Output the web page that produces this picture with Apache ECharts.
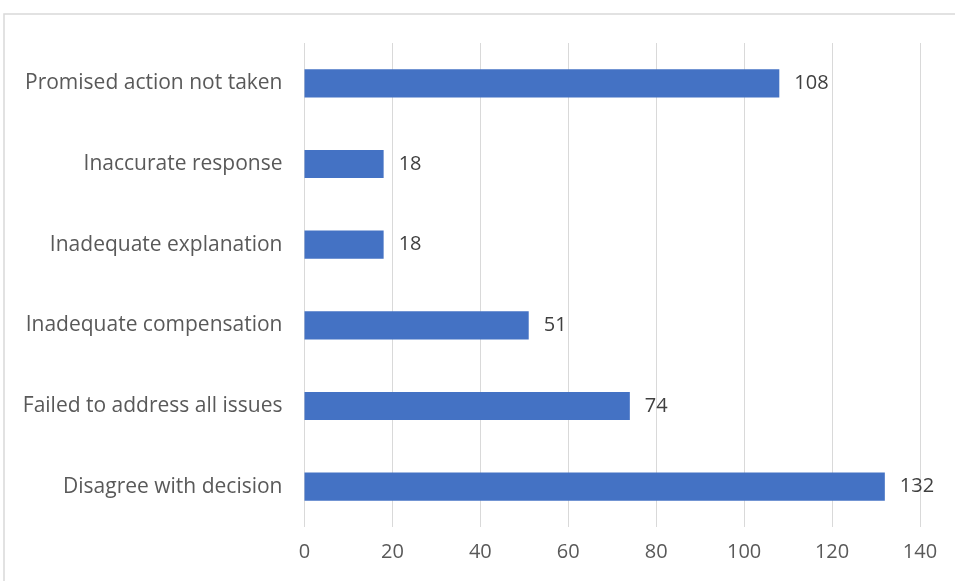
<!DOCTYPE html>
<html><head><meta charset="utf-8">
<script src="https://cdn.jsdelivr.net/npm/echarts@6/dist/echarts.min.js"></script>
<style>html,body{margin:0;padding:0;background:#fff}#c{width:955px;height:581px}</style>
</head><body><div id="c"></div>
<script>
const categories = ["Disagree with decision","Failed to address all issues","Inadequate compensation","Inadequate explanation","Inaccurate response","Promised action not taken"];
const values = [132, 74, 51, 18, 18, 108];
const xTicks = {min: 0, max: 140, interval: 20};

const chart = echarts.init(document.getElementById('c'), null, {renderer: 'canvas'});
const font = '"Open Sans", "Liberation Sans", sans-serif';
chart.setOption({
  animation: false,
  graphic: [{
    type: 'rect', shape: {x: 4, y: 14, width: 1000, height: 700},
    style: {fill: 'none', stroke: '#d9d9d9', lineWidth: 1.5}, silent: true, z: -10
  }],
  grid: {left: 304.5, right: 35, top: 43, bottom: 54, containLabel: false},
  xAxis: {
    type: 'value', min: xTicks.min, max: xTicks.max, interval: xTicks.interval,
    axisLine: {show: false}, axisTick: {show: false},
    splitLine: {show: true, lineStyle: {color: '#d9d9d9', width: 1}},
    axisLabel: {color: '#595959', fontSize: 20, fontFamily: font, margin: 15}
  },
  yAxis: {
    type: 'category', data: categories,
    axisLine: {show: false}, axisTick: {show: false},
    axisLabel: {color: '#595959', fontSize: 21, fontFamily: font, margin: 22}
  },
  series: [{
    type: 'bar', data: values, barWidth: '35%',
    itemStyle: {color: '#4472C4'},
    label: {show: true, position: 'right', distance: 15, color: '#404040', fontSize: 20, fontFamily: font}
  }]
});
</script></body></html>
